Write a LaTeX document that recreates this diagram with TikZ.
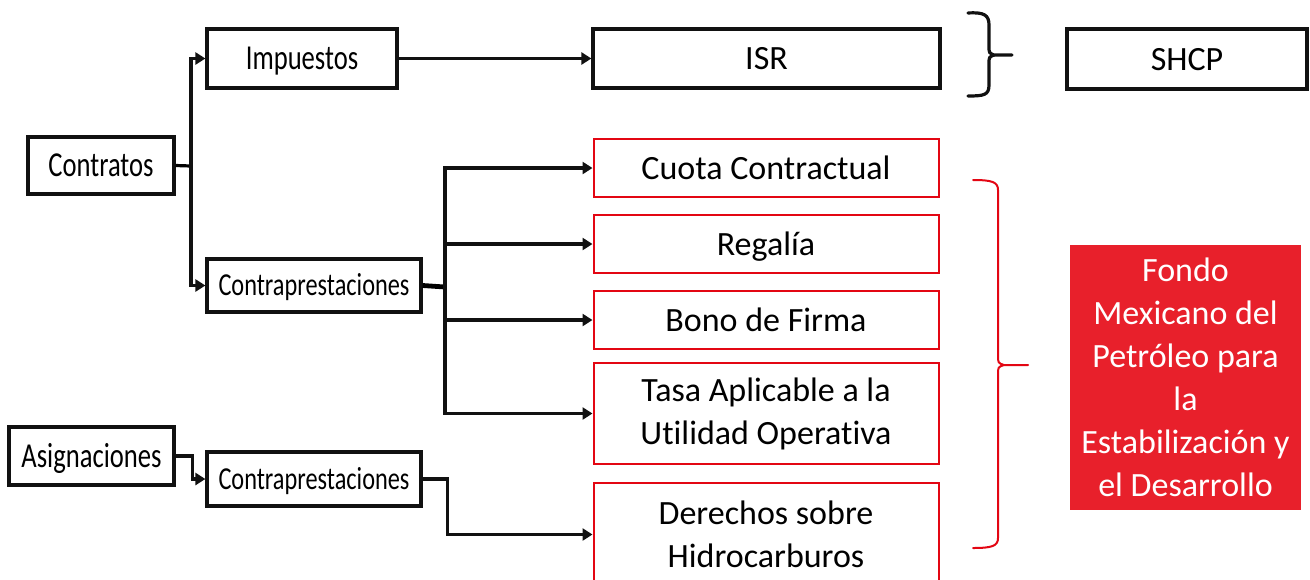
\documentclass[tikz,border=0pt]{standalone}
\usepackage{fontspec}
\setmainfont{Carlito}[Ligatures={NoCommon}]
\newfontfamily\estrecha{Carlito}[Ligatures={NoCommon},FakeStretch=0.76]
\usepackage{tikz}
\usepackage{xcolor}
\usetikzlibrary{arrows.meta}
\definecolor{lineacolore}{HTML}{111111}
\definecolor{rojocolore}{HTML}{E30613}
\definecolor{fondocolore}{HTML}{E8202B}
\tikzstyle{negrobox} = [
    draw=lineacolore,
    line width=1.6pt,
    rectangle,
    inner sep=2pt,
    align=center
    ]
\tikzstyle{unalinea} = [
    text height=15pt,
    text depth=4pt
    ]
\tikzstyle{izqbox} = [
    negrobox,
    unalinea,
    font=\estrecha\fontsize{17.5}{21.5}\selectfont
    ]
\tikzstyle{contrabox} = [
    izqbox,
    font=\estrecha\fontsize{16}{20}\selectfont,
    text height=14.3pt,
    minimum width=107pt
    ]
\tikzstyle{rojobox} = [
    draw=rojocolore,
    line width=1pt,
    rectangle,
    inner sep=2pt,
    align=center,
    minimum width=172.5pt
    ]
\tikzstyle{fondobox} = [
    fill=fondocolore,
    text=white,
    rectangle,
    align=center,
    minimum width=115.5pt,
    minimum height=132.5pt
    ]
\tikzstyle{flecha} = [
    draw=lineacolore,
    line width=1.6pt,
    -{Triangle[length=5pt,width=6pt]}
    ]
\tikzstyle{llave} = [
    line width=1.6pt,
    line cap=round
    ]

\begin{document}
\begin{tikzpicture}[x=0.5pt,y=-0.5pt,font=\fontsize{17}{21.5}\selectfont]
\useasboundingbox (0,0) rectangle (1310,579);

% izquierda
\node [izqbox, minimum width=73pt, minimum height=28.5pt] (contratos) at (101,165.5) {Contratos};
\node [izqbox, minimum width=82.5pt, minimum height=29pt] (asignaciones) at (91.5,456) {Asignaciones};

% segunda columna
\node [izqbox, minimum width=95pt, minimum height=29.5pt] (impuestos) at (302,58.5) {Impuestos};
\node [contrabox, minimum height=26.5pt] (contrap1) at (314,285.5) {Contraprestaciones};
\node [contrabox, minimum height=27pt] (contrap2) at (314,479) {Contraprestaciones};

% tercera columna
\node [negrobox, unalinea, minimum width=173.5pt, minimum height=29.5pt] (isr) at (766.5,58.5) {ISR};
\node [rojobox, unalinea, minimum height=29pt] (cuota) at (766,168) {Cuota Contractual};
\node [rojobox, unalinea, minimum height=29pt] (regalia) at (766,244) {Regalía};
\node [rojobox, unalinea, minimum height=29pt] (bono) at (766,320) {Bono de Firma};
\node [rojobox, minimum height=50.5pt] (tasa) at (766,413.5) {Tasa Aplicable a la\\Utilidad Operativa};
\node [rojobox, minimum height=51.5pt] (derechos) at (766,534.5) {Derechos sobre\\Hidrocarburos};

% derecha
\node [negrobox, unalinea, minimum width=120pt, minimum height=30pt] (shcp) at (1187,59) {SHCP};
\node [fondobox] (fondo) at (1185.5,377.5) {Fondo\\Mexicano del\\Petróleo para\\la\\Estabilización y\\el Desarrollo};

% conectores
\coordinate (split1) at (191,166);
\coordinate (split2) at (445,287);
\draw [line width=1.6pt] (contratos.east) -- (split1);
\draw [flecha] (split1) |- (impuestos.west);
\draw [flecha] (split1) |- (contrap1.west);
\draw [flecha] (impuestos.east) -- (isr.west);
\draw [line width=2.4pt] (contrap1.east) -- (split2);
\draw [flecha] (split2) |- (cuota.west);
\draw [flecha] (split2) |- (regalia.west);
\draw [flecha] (split2) |- (bono.west);
\draw [flecha] (split2) |- (tasa.west);
\draw [flecha] (asignaciones.east) -- ++(17,0) |- (contrap2.west);
\draw [flecha] (contrap2.east) -- ++(25,0) |- (derechos.west);

% llaves
\draw [llave, lineacolore] (968,13) .. controls (984,12) and (989,15) .. (989,25) -- (989,46)
    .. controls (989,53) .. (994,55) -- (1012,55);
\draw [llave, lineacolore] (994,55) .. controls (989,57) .. (989,64) -- (989,85)
    .. controls (989,95) and (984,96) .. (968,96);
\draw [llave, rojocolore, line width=1pt] (973,180) .. controls (992,180) and (998,182) .. (998,190) -- (998,355)
    .. controls (998,363) .. (1004,365) -- (1028,365);
\draw [llave, rojocolore, line width=1pt] (1004,365) .. controls (998,367) .. (998,375) -- (998,538)
    .. controls (998,546) and (992,548) .. (973,548);
\end{tikzpicture}
\end{document}
